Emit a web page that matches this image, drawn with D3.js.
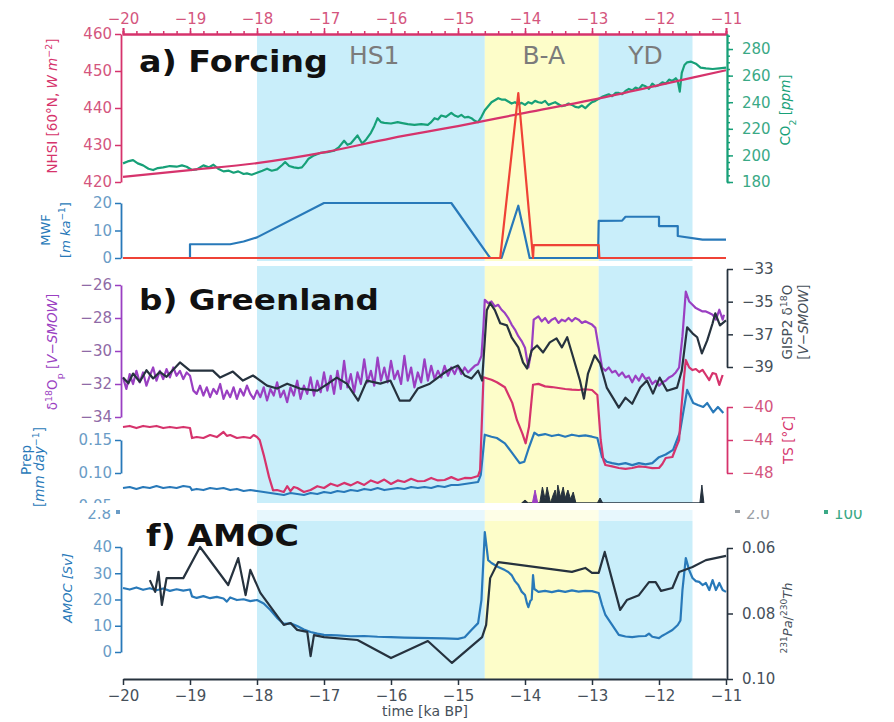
<!DOCTYPE html>
<html>
<meta charset="utf-8" />
<script src="https://d3js.org/d3.v7.min.js"></script>
<style>
  body { margin: 0; background: #fff; }
  svg { font-family: "DejaVu Sans", sans-serif; }
</style>
<body>
<svg width="894" height="722" id="chart"></svg>
<script>
// ---- data ----
const kaTicks = [-20, -19, -18, -17, -16, -15, -14, -13, -12, -11];
const periodNames = ["HS1", "B-A", "YD"];
const periodStart = [-18, -14.6, -12.9];
const periodEnd = [-14.6, -12.9, -11.5];
const periodLabelAt = [-16.25, -13.72, -12.2];

const nhsiTicks = [420, 430, 440, 450, 460];
const co2Ticks = [180, 200, 220, 240, 260, 280];
const mwfTicks = [0, 10, 20];
const d18Ticks = [-34, -32, -30, -28, -26];
const prepTicks = [0.05, 0.10, 0.15];
const gispTicks = [-39, -37, -35, -33];
const tsTicks = [-48, -44, -40];
const amocTicks = [0, 10, 20, 30, 40];
const pathTicks = [0.06, 0.08, 0.10];

const nhsi = [[-20,421.4],[-19,423.2],[-18,425.1],[-17,428.0],[-16,431.8],[-15,435.1],[-14,438.7],[-13,442.2],[-12,446.2],[-11,450.2]];

const co2 = [[-20,194],[-19.93,195.5],[-19.85,196.5],[-19.78,194],[-19.7,192.5],[-19.62,190],[-19.55,189],[-19.48,190.5],[-19.4,191],[-19.3,192],[-19.2,191.5],[-19.12,192.5],[-19.05,191.5],[-18.97,189],[-18.9,189.5],[-18.85,191],[-18.8,192.5],[-18.72,191],[-18.65,193],[-18.58,190],[-18.5,188],[-18.42,188.5],[-18.35,187],[-18.28,188],[-18.2,186],[-18.15,186.5],[-18.08,185.5],[-18,187],[-17.92,188.5],[-17.85,190],[-17.78,188.5],[-17.7,189.5],[-17.62,193],[-17.58,195],[-17.52,192],[-17.45,191],[-17.38,190.5],[-17.33,191],[-17.28,194],[-17.23,197.5],[-17.15,200],[-17.05,202],[-16.95,202.5],[-16.85,203.5],[-16.78,206],[-16.7,211],[-16.65,208],[-16.6,209],[-16.55,212],[-16.5,215],[-16.43,209],[-16.37,212],[-16.3,217],[-16.25,222],[-16.2,228],[-16.15,225],[-16.1,224.5],[-16.0,224],[-15.9,225],[-15.85,224.5],[-15.75,223.5],[-15.65,223],[-15.55,223.5],[-15.45,223],[-15.4,225],[-15.35,228],[-15.3,227],[-15.25,230],[-15.18,229],[-15.1,232],[-15.05,230],[-15.0,229],[-14.95,230.5],[-14.9,228.5],[-14.85,229],[-14.8,228],[-14.75,226],[-14.7,225],[-14.65,229],[-14.6,234],[-14.55,237],[-14.5,240],[-14.45,241.5],[-14.4,243],[-14.35,242],[-14.3,242],[-14.25,240.5],[-14.2,239],[-14.15,240],[-14.1,238.5],[-14.05,239.5],[-14.0,238],[-13.95,240],[-13.9,239],[-13.85,241],[-13.8,240],[-13.75,239.5],[-13.7,241],[-13.65,238],[-13.6,239],[-13.55,240],[-13.5,238.5],[-13.45,237],[-13.4,237.5],[-13.35,239],[-13.3,238],[-13.25,236.5],[-13.2,236],[-13.15,237.5],[-13.1,235.5],[-13.05,238],[-13.0,240],[-12.95,241],[-12.9,242.5],[-12.85,244],[-12.8,245],[-12.75,246],[-12.7,244.5],[-12.65,247],[-12.6,247],[-12.55,246],[-12.5,248.5],[-12.45,250],[-12.4,249],[-12.35,251],[-12.3,250],[-12.25,253],[-12.2,252],[-12.15,250],[-12.1,254],[-12.05,252],[-12.0,253],[-11.95,255],[-11.9,254],[-11.85,257],[-11.8,256],[-11.75,258],[-11.72,256],[-11.69,248],[-11.66,262],[-11.62,268],[-11.58,270],[-11.52,270.5],[-11.45,269],[-11.38,266],[-11.3,265.5],[-11.2,265],[-11.1,265.5],[-11.0,266]];

const mwfBlue = [[-20,0],[-19,0],[-19,5],[-18.4,5],[-18.2,6],[-18,7.5],[-17,20],[-15.1,20],[-14.52,0],[-14.35,0],[-14.1,19],[-13.93,0],[-12.91,0],[-12.9,13.5],[-12.55,13.6],[-12.5,15],[-12.0,15],[-12.0,11.6],[-11.72,11.6],[-11.72,8],[-11.35,6.7],[-11,6.7]];
const mwfRed = [[-20,0],[-14.37,0],[-14.1,60],[-13.88,0],[-13.87,4.7],[-12.9,4.7],[-12.89,0],[-11,0]];

const d18Op = [[-20,-31.6],[-19.95,-32.3],[-19.9,-31.4],[-19.85,-32.0],[-19.8,-31.2],[-19.75,-31.9],[-19.7,-31.3],[-19.65,-32.1],[-19.6,-31.5],[-19.55,-31.0],[-19.5,-31.8],[-19.45,-31.2],[-19.4,-31.7],[-19.35,-31.1],[-19.3,-31.6],[-19.25,-31.0],[-19.2,-31.5],[-19.15,-31.2],[-19.1,-31.7],[-19.05,-31.3],[-19.0,-31.5],[-18.95,-32.4],[-18.9,-32.6],[-18.85,-32.1],[-18.8,-32.7],[-18.75,-32.2],[-18.7,-32.8],[-18.65,-32.3],[-18.6,-32.6],[-18.55,-32.0],[-18.5,-32.9],[-18.45,-32.4],[-18.4,-32.8],[-18.35,-32.2],[-18.3,-32.9],[-18.25,-32.3],[-18.2,-32.7],[-18.15,-32.1],[-18.1,-32.6],[-18.05,-32.9],[-18.0,-32.4],[-17.95,-32.8],[-17.9,-32.2],[-17.85,-33.0],[-17.8,-32.3],[-17.75,-32.7],[-17.7,-31.9],[-17.65,-32.8],[-17.6,-32.4],[-17.55,-33.1],[-17.5,-32.2],[-17.45,-32.7],[-17.4,-31.8],[-17.35,-32.9],[-17.3,-32.1],[-17.25,-32.6],[-17.2,-31.6],[-17.15,-32.7],[-17.1,-31.8],[-17.05,-32.5],[-17.0,-31.3],[-16.95,-32.4],[-16.9,-31.5],[-16.85,-32.6],[-16.8,-31.2],[-16.75,-32.3],[-16.7,-30.6],[-16.65,-32.2],[-16.6,-31.4],[-16.55,-32.5],[-16.5,-31.3],[-16.45,-32.0],[-16.4,-30.5],[-16.35,-31.9],[-16.3,-31.2],[-16.25,-32.1],[-16.2,-30.4],[-16.15,-31.8],[-16.1,-31.0],[-16.05,-31.9],[-16.0,-30.6],[-15.95,-31.7],[-15.9,-31.2],[-15.85,-32.0],[-15.8,-30.3],[-15.75,-31.8],[-15.7,-31.0],[-15.65,-32.2],[-15.6,-31.3],[-15.55,-31.9],[-15.5,-30.5],[-15.45,-31.8],[-15.4,-30.9],[-15.35,-31.7],[-15.3,-31.2],[-15.25,-31.6],[-15.2,-30.9],[-15.15,-31.5],[-15.1,-31.0],[-15.05,-31.4],[-15.0,-30.9],[-14.95,-31.4],[-14.9,-31.0],[-14.85,-31.3],[-14.8,-31.1],[-14.75,-30.9],[-14.7,-30.8],[-14.65,-30.3],[-14.62,-28.5],[-14.6,-26.9],[-14.55,-27.1],[-14.5,-27.0],[-14.45,-27.3],[-14.4,-27.2],[-14.35,-27.5],[-14.3,-27.7],[-14.25,-28.0],[-14.2,-28.4],[-14.15,-28.7],[-14.1,-29.1],[-14.05,-29.4],[-14.0,-29.8],[-13.95,-31.0],[-13.9,-29.9],[-13.87,-28.1],[-13.8,-27.9],[-13.75,-28.2],[-13.7,-28.0],[-13.65,-28.3],[-13.6,-28.1],[-13.55,-28.0],[-13.5,-28.3],[-13.45,-28.1],[-13.4,-28.2],[-13.35,-28.0],[-13.3,-28.2],[-13.25,-28.0],[-13.2,-28.1],[-13.15,-28.3],[-13.1,-28.2],[-13.05,-28.3],[-13.0,-28.4],[-12.95,-28.6],[-12.9,-29.8],[-12.85,-31.0],[-12.8,-31.2],[-12.75,-31.0],[-12.7,-31.3],[-12.65,-31.2],[-12.6,-31.5],[-12.55,-31.3],[-12.5,-31.6],[-12.45,-31.5],[-12.4,-31.9],[-12.35,-31.5],[-12.3,-31.8],[-12.25,-31.4],[-12.2,-31.7],[-12.15,-31.6],[-12.1,-32.0],[-12.05,-31.8],[-12.0,-32.1],[-11.95,-31.9],[-11.9,-31.8],[-11.85,-31.6],[-11.8,-31.5],[-11.75,-31.3],[-11.7,-31.0],[-11.65,-29.1],[-11.6,-26.4],[-11.55,-27.0],[-11.5,-27.2],[-11.45,-27.4],[-11.4,-27.5],[-11.35,-27.6],[-11.3,-27.6],[-11.25,-27.7],[-11.2,-27.8],[-11.15,-28.1],[-11.1,-27.5],[-11.05,-28.1],[-11.03,-27.8]];

const gisp2 = [[-20,-39.65],[-19.92,-40.0],[-19.85,-39.4],[-19.75,-39.9],[-19.65,-39.2],[-19.55,-39.7],[-19.45,-39.3],[-19.35,-39.6],[-19.15,-38.72],[-19.0,-39.22],[-18.66,-39.22],[-18.55,-39.65],[-18.36,-39.28],[-18.21,-39.83],[-18.06,-39.52],[-17.85,-40.14],[-17.7,-40.32],[-17.55,-40.02],[-17.36,-40.32],[-17.1,-40.45],[-16.94,-40.02],[-16.81,-39.65],[-16.66,-40.02],[-16.49,-41.06],[-16.36,-39.83],[-16.16,-40.02],[-16.01,-39.83],[-15.87,-41.06],[-15.72,-41.06],[-15.6,-40.32],[-15.42,-40.02],[-15.22,-39.40],[-15.1,-39.09],[-15.0,-38.91],[-14.9,-39.52],[-14.8,-39.71],[-14.7,-39.22],[-14.64,-39.83],[-14.57,-35.52],[-14.52,-35.09],[-14.45,-35.52],[-14.37,-36.32],[-14.27,-36.45],[-14.2,-37.18],[-14.1,-37.80],[-14.03,-38.72],[-13.97,-39.09],[-13.9,-37.98],[-13.82,-37.68],[-13.73,-38.11],[-13.63,-37.49],[-13.53,-37.25],[-13.45,-37.80],[-13.37,-37.18],[-13.28,-38.42],[-13.18,-39.83],[-13.12,-40.94],[-13.06,-39.40],[-12.96,-38.29],[-12.88,-38.78],[-12.78,-40.26],[-12.68,-40.94],[-12.6,-41.49],[-12.5,-40.88],[-12.4,-41.25],[-12.28,-40.26],[-12.18,-39.83],[-12.09,-40.63],[-11.99,-39.65],[-11.88,-40.45],[-11.73,-40.26],[-11.66,-39.22],[-11.58,-36.57],[-11.5,-36.94],[-11.43,-37.18],[-11.36,-38.17],[-11.28,-37.37],[-11.2,-36.32],[-11.16,-35.71],[-11.09,-36.45],[-11.0,-36.14]];

const tsGreen = [[-20,-42.42],[-19.9,-42.3],[-19.8,-42.55],[-19.7,-42.3],[-19.6,-42.42],[-19.5,-42.3],[-19.4,-42.55],[-19.3,-42.42],[-19.2,-42.55],[-19.1,-42.42],[-19.0,-42.55],[-18.97,-43.76],[-18.9,-43.64],[-18.8,-43.76],[-18.7,-43.4],[-18.6,-43.64],[-18.5,-43.03],[-18.45,-43.5],[-18.4,-43.4],[-18.3,-43.76],[-18.2,-43.64],[-18.1,-43.76],[-18.05,-43.4],[-18.0,-43.64],[-17.96,-44.0],[-17.9,-45.8],[-17.82,-48.5],[-17.76,-50.1],[-17.7,-50.06],[-17.6,-50.3],[-17.55,-49.6],[-17.5,-50.2],[-17.45,-49.7],[-17.4,-49.82],[-17.3,-50.3],[-17.2,-50.06],[-17.1,-49.6],[-17.0,-49.82],[-16.9,-49.3],[-16.8,-49.58],[-16.7,-49.2],[-16.6,-49.5],[-16.5,-49.1],[-16.4,-49.45],[-16.3,-48.9],[-16.2,-49.21],[-16.1,-48.8],[-16.0,-49.33],[-15.9,-48.9],[-15.8,-49.09],[-15.7,-48.7],[-15.6,-49.0],[-15.5,-48.97],[-15.4,-48.6],[-15.3,-48.9],[-15.2,-48.85],[-15.1,-48.5],[-15.0,-48.85],[-14.9,-48.6],[-14.8,-48.61],[-14.7,-48.36],[-14.67,-47.64],[-14.62,-36.4],[-14.5,-36.7],[-14.42,-37.0],[-14.3,-37.6],[-14.19,-39.5],[-14.12,-41.6],[-14.04,-43.2],[-13.99,-44.4],[-13.94,-42.4],[-13.88,-37.3],[-13.8,-37.2],[-13.7,-37.5],[-13.6,-37.58],[-13.5,-37.7],[-13.4,-37.82],[-13.3,-37.9],[-13.2,-37.94],[-13.1,-37.85],[-13.0,-37.94],[-12.92,-38.55],[-12.87,-44.0],[-12.83,-46.42],[-12.8,-47.03],[-12.7,-47.2],[-12.6,-47.39],[-12.5,-47.5],[-12.4,-47.39],[-12.3,-47.2],[-12.2,-47.27],[-12.1,-47.4],[-12.0,-47.39],[-11.95,-46.9],[-11.9,-46.18],[-11.8,-46.06],[-11.75,-45.0],[-11.7,-44.0],[-11.67,-40.5],[-11.63,-36.73],[-11.6,-34.3],[-11.55,-35.2],[-11.5,-35.52],[-11.45,-35.4],[-11.4,-35.76],[-11.35,-35.5],[-11.3,-36.12],[-11.25,-36.73],[-11.2,-35.88],[-11.15,-36.0],[-11.1,-37.33],[-11.05,-36.12]];

const prep = [[-20,0.0773],[-19.9,0.0788],[-19.8,0.0758],[-19.7,0.0788],[-19.6,0.0773],[-19.5,0.0803],[-19.4,0.0773],[-19.3,0.0788],[-19.2,0.0773],[-19.1,0.0803],[-19.0,0.0788],[-18.97,0.0742],[-18.9,0.0758],[-18.8,0.0742],[-18.7,0.0773],[-18.6,0.0758],[-18.5,0.0773],[-18.4,0.0742],[-18.3,0.0758],[-18.2,0.0727],[-18.1,0.0742],[-18.0,0.0727],[-17.9,0.0712],[-17.8,0.0697],[-17.7,0.0682],[-17.6,0.0667],[-17.5,0.0697],[-17.4,0.0682],[-17.3,0.0667],[-17.2,0.0697],[-17.1,0.0682],[-17.0,0.0712],[-16.9,0.0697],[-16.8,0.0727],[-16.7,0.0712],[-16.6,0.0742],[-16.5,0.0727],[-16.4,0.0758],[-16.3,0.0742],[-16.2,0.0773],[-16.1,0.0742],[-16.0,0.0758],[-15.9,0.0773],[-15.8,0.0758],[-15.7,0.0788],[-15.6,0.0773],[-15.5,0.0788],[-15.4,0.0773],[-15.3,0.0803],[-15.2,0.0788],[-15.1,0.0818],[-15.0,0.0818],[-14.9,0.0833],[-14.8,0.0848],[-14.7,0.0864],[-14.66,0.097],[-14.6,0.158],[-14.5,0.155],[-14.42,0.153],[-14.3,0.145],[-14.19,0.130],[-14.08,0.115],[-14.01,0.117],[-13.94,0.139],[-13.86,0.161],[-13.8,0.157],[-13.7,0.159],[-13.6,0.156],[-13.5,0.158],[-13.4,0.155],[-13.3,0.158],[-13.2,0.156],[-13.1,0.157],[-13.0,0.155],[-12.92,0.153],[-12.85,0.124],[-12.78,0.117],[-12.7,0.115],[-12.6,0.113],[-12.5,0.115],[-12.4,0.112],[-12.3,0.115],[-12.2,0.113],[-12.1,0.115],[-12.0,0.124],[-11.9,0.128],[-11.79,0.135],[-11.69,0.161],[-11.58,0.226],[-11.49,0.206],[-11.42,0.203],[-11.34,0.20],[-11.28,0.206],[-11.19,0.192],[-11.12,0.20],[-11.04,0.191]];

// spikes of the panel cut off below b)
const cutDark = [[-14.05,0],[-14.0,3],[-13.95,0],[-13.78,0],[-13.74,16],[-13.7,4],[-13.67,16],[-13.62,0],[-13.58,8],[-13.55,13],[-13.53,4],[-13.51,18],[-13.47,6],[-13.43,16],[-13.4,5],[-13.36,13],[-13.32,4],[-13.28,11],[-13.24,0],[-12.92,0],[-12.88,5],[-12.84,0],[-11.39,0],[-11.36,18],[-11.33,0]];
const cutPurple = [[-13.89,0],[-13.85,13],[-13.81,0]];

const amoc = [[-20,24.4],[-19.9,23.8],[-19.8,24.6],[-19.7,23.7],[-19.6,24.3],[-19.5,23.5],[-19.4,24.2],[-19.3,23.3],[-19.2,23.9],[-19.1,23.4],[-19.0,23.8],[-18.97,21.2],[-18.9,20.6],[-18.8,21.3],[-18.7,20.5],[-18.6,21.0],[-18.5,20.4],[-18.45,19.2],[-18.4,20.8],[-18.3,19.8],[-18.2,20.1],[-18.1,19.4],[-18.0,19.8],[-17.9,18.5],[-17.8,16.0],[-17.7,13.0],[-17.6,10.7],[-17.5,10.9],[-17.4,9.9],[-17.3,8.6],[-17.2,7.6],[-17.1,7.0],[-17.0,6.5],[-16.8,6.3],[-16.6,6.0],[-16.4,6.1],[-16.2,5.8],[-16.0,5.7],[-15.8,5.5],[-15.6,5.4],[-15.4,5.3],[-15.2,5.2],[-15.0,5.0],[-14.9,5.6],[-14.8,8.4],[-14.7,11.0],[-14.65,19.8],[-14.6,45.7],[-14.55,35.0],[-14.5,33.9],[-14.4,32.4],[-14.3,31.2],[-14.25,30.5],[-14.2,29.3],[-14.15,27.0],[-14.1,25.5],[-14.05,23.0],[-14.0,21.7],[-13.97,18.5],[-13.95,17.1],[-13.92,19.5],[-13.9,20.0],[-13.88,29.3],[-13.86,24.0],[-13.8,22.9],[-13.7,23.3],[-13.6,22.8],[-13.5,23.4],[-13.4,22.9],[-13.3,23.5],[-13.2,23.0],[-13.1,23.3],[-13.0,23.2],[-12.9,22.5],[-12.85,17.9],[-12.8,14.1],[-12.7,10.3],[-12.6,6.5],[-12.5,5.9],[-12.4,5.7],[-12.3,6.0],[-12.2,6.1],[-12.15,7.0],[-12.1,5.8],[-12.0,5.3],[-11.95,6.2],[-11.9,6.9],[-11.8,8.4],[-11.72,10.3],[-11.68,12.0],[-11.65,23.6],[-11.6,35.8],[-11.55,31.2],[-11.5,28.2],[-11.45,27.0],[-11.4,26.7],[-11.35,25.5],[-11.3,26.3],[-11.25,23.6],[-11.2,27.4],[-11.15,23.6],[-11.1,26.3],[-11.05,23.6],[-11.0,22.9]];

const paTh = [[-19.6,0.0698],[-19.52,0.0734],[-19.47,0.0673],[-19.42,0.0774],[-19.35,0.0692],[-19.2,0.0692],[-19.1,0.0692],[-18.85,0.0597],[-18.43,0.0713],[-18.28,0.0631],[-18.17,0.0744],[-18.1,0.0667],[-17.95,0.0737],[-17.6,0.0835],[-17.5,0.0829],[-17.4,0.0850],[-17.25,0.0856],[-17.2,0.0930],[-17.15,0.0866],[-17.0,0.0872],[-16.5,0.0881],[-16.0,0.0936],[-15.45,0.0884],[-15.09,0.0951],[-14.64,0.0872],[-14.58,0.0835],[-14.52,0.0692],[-14.4,0.0643],[-13.3,0.0673],[-13.1,0.0661],[-13.0,0.0676],[-12.9,0.0676],[-12.81,0.0612],[-12.58,0.0789],[-12.48,0.0759],[-12.3,0.0744],[-12.15,0.0704],[-12.05,0.0704],[-11.97,0.0731],[-11.8,0.0722],[-11.7,0.0673],[-11.5,0.0658],[-11.3,0.0637],[-11.0,0.0624]];

// ---- colours ----
const C = {
  pink: "#d6336c", pinkTxt: "#d4567e",
  green: "#17a078", greenTxt: "#3aa986",
  blue: "#2879b9", blueTxt: "#6a9cc6",
  red: "#ef4236",
  purple: "#9a3fc2", purpleTxt: "#8f6aa6",
  dark: "#26323e", darkTxt: "#46505a",
  shadeBlue: "#c9eefa", shadeYellow: "#fdfdc9",
  period: "#7b7b7b"
};
const shadeFill = [C.shadeBlue, C.shadeYellow, C.shadeBlue];

const svg = d3.select("#chart");
const FONT = "DejaVu Sans";

const x = d3.scaleLinear().domain([-20, -11]).range([123, 726]);
const leftX = 121, rightX = 727;

// panel y scales
const yNhsi = d3.scaleLinear().domain([420, 460]).range([182, 34]);
const yCo2 = d3.scaleLinear().domain([180, 291.3]).range([182, 34]);
const yMwf = d3.scaleLinear().domain([0, 20]).range([258, 203]);
const yD18 = d3.scaleLinear().domain([-34, -26]).range([417, 285]);
const yGisp = d3.scaleLinear().domain([-39, -33]).range([367, 269]);
const yTs = d3.scaleLinear().domain([-48, -40]).range([473, 407]);
const yPrep = d3.scaleLinear().domain([0.10, 0.15]).range([473, 440]);
const yCut = d3.scaleLinear().domain([0, 20]).range([503, 483]);
const yAmoc = d3.scaleLinear().domain([0, 40]).range([652, 547]);
const yPaTh = d3.scaleLinear().domain([0.06, 0.10]).range([548, 679]);

// clip paths
const defs = svg.append("defs");
defs.append("clipPath").attr("id", "clipB").append("rect")
  .attr("x", -200).attr("y", 262).attr("width", 1100).attr("height", 241);
defs.append("clipPath").attr("id", "clipCut").append("rect")
  .attr("x", 0).attr("y", 510).attr("width", 894).attr("height", 11);

// ---- shading ----
function shade(y0, y1, opacity) {
  periodStart.forEach((s, i) => {
    svg.append("rect")
      .attr("x", x(s)).attr("y", y0)
      .attr("width", x(periodEnd[i]) - x(s)).attr("height", y1 - y0)
      .attr("fill", shadeFill[i]).attr("opacity", opacity);
  });
}
shade(34, 261, 1);
shade(266, 503, 1);
shade(510, 521, 0.45);
shade(521, 679, 1);

periodNames.forEach((n, i) => {
  svg.append("text").attr("x", x(periodLabelAt[i])).attr("y", 64)
    .attr("text-anchor", "middle").attr("font-family", FONT)
    .attr("font-size", 25).attr("fill", C.period).text(n);
});

// ---- helpers ----
function line(data, ys, color, width, curve, parent) {
  (parent || svg).append("path").datum(data)
    .attr("fill", "none").attr("stroke", color).attr("stroke-width", width)
    .attr("stroke-linejoin", "round")
    .attr("d", d3.line().x(d => x(d[0])).y(d => ys(d[1])).curve(curve || d3.curveLinear));
}

function axis(gen, tx, ty, color, txtColor, parent) {
  const g = (parent || svg).append("g").attr("transform", `translate(${tx},${ty})`).call(gen);
  g.attr("font-family", FONT).attr("font-size", 15);
  g.select(".domain").attr("stroke", color).attr("stroke-width", 1.8);
  g.selectAll(".tick line").attr("stroke", color).attr("stroke-width", 1.5);
  g.selectAll(".tick text").attr("fill", txtColor);
  return g;
}

// rich text; parts: [text, style] with style containing "i", "sup" or "sub"
function rich(px, py, parts, color, size, rotate, anchor) {
  const t = svg.append("text")
    .attr("transform", `translate(${px},${py})` + (rotate ? " rotate(-90)" : ""))
    .attr("text-anchor", anchor || "middle").attr("font-family", FONT)
    .attr("font-size", size).attr("fill", color);
  parts.forEach(([s, st]) => {
    const sp = t.append("tspan").text(s);
    if (st && st.includes("i")) sp.attr("font-style", "italic");
    if (st && st.includes("sup")) sp.attr("baseline-shift", "super").attr("font-size", size * 0.7);
    if (st && st.includes("sub")) sp.attr("baseline-shift", "sub").attr("font-size", size * 0.7);
  });
  return t;
}

// ---- panel a: forcing ----
line(co2, yCo2, C.green, 2.2);
line(nhsi, yNhsi, C.pink, 2.2, d3.curveMonotoneX);
line(mwfBlue, yMwf, C.blue, 2.2);
line(mwfRed, yMwf, C.red, 2.2);

const fmtInt = d3.format("d");
axis(d3.axisTop(x).tickValues(x.ticks(45)).tickSize(3).tickFormat(""), 0, 34, C.pink, C.pinkTxt);
axis(d3.axisTop(x).tickValues(kaTicks).tickSize(6).tickPadding(4).tickFormat(fmtInt), 0, 34, C.pink, C.pinkTxt);
axis(d3.axisLeft(yNhsi).tickValues(nhsiTicks).tickSize(6).tickPadding(3).tickSizeOuter(0), leftX, 0, C.pink, C.pinkTxt);
axis(d3.axisRight(yCo2).tickValues(d3.range(180, 291, 5)).tickSize(3).tickFormat("").tickSizeOuter(0), rightX, 0, C.green, C.greenTxt);
axis(d3.axisRight(yCo2).tickValues(co2Ticks).tickSize(6).tickPadding(9).tickSizeOuter(0), rightX, 0, C.green, C.greenTxt);
axis(d3.axisLeft(yMwf).tickValues(mwfTicks).tickSize(6).tickPadding(3).tickSizeOuter(0), leftX, 0, C.blue, C.blueTxt);

svg.append("text").attr("x", 139).attr("y", 72).attr("font-family", FONT)
  .attr("font-weight", "bold").attr("font-size", 30).attr("fill", "#111")
  .attr("textLength", 189).attr("lengthAdjust", "spacingAndGlyphs").text("a) Forcing");

rich(57, 106, [["NHSI [60°N, "], ["W m", "i"], ["−2", "sup"], ["]"]], C.pink, 13.5, true);
rich(790, 110, [["CO"], ["2", "sub"], [" ["], ["ppm", "i"], ["]"]], C.green, 13.5, true);
rich(50, 230, [["MWF"]], C.blue, 13, true);
rich(70, 230, [["["], ["m ka", "i"], ["−1", "sup"], ["]"]], C.blue, 13, true);

// ---- panel b: Greenland ----
const gB = svg.append("g").attr("clip-path", "url(#clipB)");
line(prep, yPrep, C.blue, 2.2, null, gB);
line(tsGreen, yTs, C.pink, 2.2, null, gB);
line(d18Op, yD18, C.purple, 2.2, null, gB);
line(gisp2, yGisp, C.dark, 2.2, null, gB);
gB.append("path").datum(cutDark).attr("fill", C.dark).attr("stroke", C.dark).attr("stroke-width", 1)
  .attr("d", d3.area().x(d => x(d[0])).y0(yCut(0)).y1(d => yCut(d[1])));
gB.append("path").datum(cutPurple).attr("fill", C.purple).attr("stroke", C.purple).attr("stroke-width", 1)
  .attr("d", d3.area().x(d => x(d[0])).y0(yCut(0)).y1(d => yCut(d[1])));

axis(d3.axisLeft(yD18).tickValues(d18Ticks).tickSize(6).tickPadding(3).tickSizeOuter(0).tickFormat(fmtInt), leftX, 0, C.purple, C.purpleTxt);
// prep axis runs into the cut: clip it with the panel
const gPrepAx = svg.append("g").attr("clip-path", "url(#clipB)");
axis(d3.axisLeft(yPrep).tickValues(prepTicks).tickSize(6).tickPadding(3).tickSizeOuter(0).tickFormat(d3.format(".2f")), leftX, 0, C.blue, C.blueTxt, gPrepAx);
axis(d3.axisRight(yGisp).tickValues(gispTicks).tickSize(6).tickPadding(9).tickSizeOuter(0).tickFormat(fmtInt), rightX, 0, C.dark, C.darkTxt);
axis(d3.axisRight(yTs).tickValues(tsTicks).tickSize(6).tickPadding(9).tickSizeOuter(0).tickFormat(fmtInt), rightX, 0, C.pink, C.pinkTxt);

svg.append("text").attr("x", 139).attr("y", 310).attr("font-family", FONT)
  .attr("font-weight", "bold").attr("font-size", 28).attr("fill", "#111")
  .attr("textLength", 240).attr("lengthAdjust", "spacingAndGlyphs").text("b) Greenland");

rich(57, 352, [["δ"], ["18", "sup"], ["O"], ["p", "sub"], [" ["], ["V−SMOW", "i"], ["]"]], C.purple, 13.5, true);
rich(31, 460, [["Prep"]], C.blue, 13.5, true);
rich(44, 467, [["["], ["mm day", "i"], ["−1", "sup"], ["]"]], C.blue, 13.5, true);
rich(792, 322, [["GISP2  δ"], ["18", "sup"], ["O"]], C.darkTxt, 13.5, true);
rich(808, 322, [["["], ["V−SMOW", "i"], ["]"]], C.darkTxt, 13.5, true);
rich(793, 440, [["TS ["], ["°C", "i"], ["]"]], C.pink, 13.5, true);

// fragments of the cut-off panel (only their lower part shows)
const gCut = svg.append("g").attr("clip-path", "url(#clipCut)");
gCut.append("text").attr("x", 111).attr("y", 519).attr("text-anchor", "end").attr("font-family", FONT)
  .attr("font-size", 15).attr("fill", C.blueTxt).text("2.8");
gCut.append("text").attr("x", 746).attr("y", 519).attr("font-family", FONT)
  .attr("font-size", 15).attr("fill", "#9aa0a6").text("2.0");
gCut.append("text").attr("x", 834).attr("y", 519).attr("font-family", FONT)
  .attr("font-size", 15).attr("fill", C.greenTxt).text("100");
gCut.append("rect").attr("x", 116).attr("y", 510).attr("width", 4).attr("height", 4).attr("fill", C.blueTxt);
gCut.append("rect").attr("x", 735).attr("y", 510).attr("width", 5).attr("height", 3).attr("fill", "#9aa0a6");
gCut.append("rect").attr("x", 824).attr("y", 510).attr("width", 4).attr("height", 4).attr("fill", C.greenTxt);

// ---- panel f: AMOC ----
line(amoc, yAmoc, C.blue, 2.2);
line(paTh, yPaTh, C.dark, 2.2);

axis(d3.axisLeft(yAmoc).tickValues(amocTicks).tickSize(6).tickPadding(3).tickSizeOuter(0), leftX, 0, C.blue, C.blueTxt);
axis(d3.axisRight(yPaTh).tickValues(pathTicks).tickSize(6).tickPadding(9).tickSizeOuter(0).tickFormat(d3.format(".2f")), rightX, 0, C.dark, C.darkTxt);
axis(d3.axisBottom(x).tickValues(kaTicks).tickSize(6).tickPadding(5).tickSizeOuter(0).tickFormat(fmtInt), 0, 679, C.dark, C.darkTxt);

svg.append("text").attr("x", 146).attr("y", 546).attr("font-family", FONT)
  .attr("font-weight", "bold").attr("font-size", 30).attr("fill", "#111")
  .attr("textLength", 153).attr("lengthAdjust", "spacingAndGlyphs").text("f) AMOC");

rich(72, 588, [["AMOC [Sv]", "i"]], C.blue, 13, true);
rich(792, 618, [["231", "sup"], ["Pa", "i"], ["/"], ["230", "sup"], ["Th", "i"]], C.darkTxt, 13, true);
svg.append("text").attr("x", 425).attr("y", 716).attr("text-anchor", "middle")
  .attr("font-family", FONT).attr("font-size", 14).attr("fill", C.darkTxt).text("time [ka BP]");
</script>
</body>
</html>
